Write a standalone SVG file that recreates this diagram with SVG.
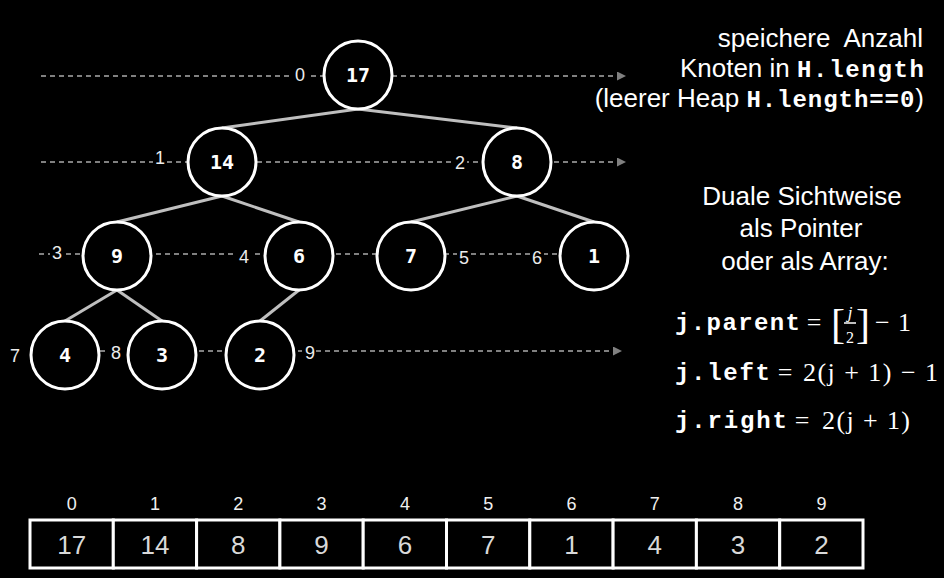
<svg xmlns="http://www.w3.org/2000/svg" width="944" height="578" viewBox="0 0 944 578">
<defs>
<marker id="arr" viewBox="0 0 10 10" refX="10" refY="5" markerWidth="9" markerHeight="9" markerUnits="userSpaceOnUse" orient="auto">
<path d="M0,0 L10,5 L0,10 Z" fill="#808080"/>
</marker>
<style>
.node ellipse{fill:#000;stroke:#fff;stroke-width:3}
.node text{font-family:"DejaVu Sans Mono","Liberation Mono",monospace;font-weight:bold;font-size:20px;fill:#fff;text-anchor:middle}
.edge{stroke:#bfbfbf;stroke-width:3;fill:none}
.dash{stroke:#808080;stroke-width:2;stroke-dasharray:5 4;fill:none}
.idx{font-family:"Liberation Sans Narrow","Liberation Sans",sans-serif;font-size:18px;fill:#ececec;text-anchor:middle}
.bg{fill:#000}
.txt{font-family:"Liberation Sans",Arial,sans-serif;font-size:26px;fill:#fff}
.mono{font-family:"Liberation Mono","Courier New",monospace;font-weight:bold;fill:#fff}
.math{font-family:"Liberation Serif","Times New Roman",serif;fill:#fff}
.cell{fill:#000;stroke:#fff;stroke-width:3}
.aidx{font-family:"Liberation Sans Narrow","Liberation Sans",sans-serif;font-size:18px;fill:#f0f0f0;text-anchor:middle}
.aval{font-family:"Liberation Sans Narrow","Liberation Sans",sans-serif;font-size:26px;fill:#d9d9d9;text-anchor:middle}
</style>
</defs>
<rect x="0" y="0" width="944" height="578" fill="#000"/>

<g id="connectors">
<line class="dash" x1="41" y1="76" x2="626" y2="76" marker-end="url(#arr)"/>
<line class="dash" x1="41" y1="162" x2="626" y2="162" marker-end="url(#arr)"/>
<line class="dash" x1="39" y1="254" x2="562" y2="254"/>
<line class="dash" x1="100" y1="351" x2="622" y2="351" marker-end="url(#arr)"/>
<line class="edge" x1="358" y1="109" x2="222" y2="128"/>
<line class="edge" x1="358" y1="109" x2="517" y2="128"/>
<line class="edge" x1="222" y1="196" x2="117" y2="222"/>
<line class="edge" x1="222" y1="196" x2="299" y2="222"/>
<line class="edge" x1="517" y1="196" x2="411" y2="222"/>
<line class="edge" x1="517" y1="196" x2="594" y2="222"/>
<line class="edge" x1="117" y1="290" x2="65" y2="321"/>
<line class="edge" x1="117" y1="290" x2="162" y2="321"/>
<line class="edge" x1="299" y1="290" x2="260" y2="321"/>
</g>

<g id="index-labels">
<rect class="bg" x="293" y="64" width="14" height="20"/><text class="idx" x="300" y="81">0</text>
<rect class="bg" x="153" y="148" width="14" height="20"/><text class="idx" x="160" y="164">1</text>
<rect class="bg" x="453" y="152" width="14" height="20"/><text class="idx" x="460" y="169">2</text>
<rect class="bg" x="50" y="242" width="14" height="20"/><text class="idx" x="57" y="259">3</text>
<rect class="bg" x="237" y="246" width="14" height="20"/><text class="idx" x="244" y="263">4</text>
<rect class="bg" x="457" y="246" width="14" height="20"/><text class="idx" x="464" y="264">5</text>
<rect class="bg" x="530" y="246" width="14" height="20"/><text class="idx" x="537" y="264">6</text>
<text class="idx" x="15" y="362">7</text>
<rect class="bg" x="109" y="342" width="14" height="20"/><text class="idx" x="116" y="359">8</text>
<rect class="bg" x="302" y="342" width="14" height="20"/><text class="idx" x="310" y="359">9</text>
</g>

<g id="n0" class="node"><ellipse cx="358" cy="75" rx="34" ry="34"/><text x="358" y="82">17</text></g>
<g id="n1" class="node"><ellipse cx="222" cy="162" rx="34" ry="34"/><text x="222" y="169">14</text></g>
<g id="n2" class="node"><ellipse cx="517" cy="162" rx="34" ry="34"/><text x="517" y="169">8</text></g>
<g id="n3" class="node"><ellipse cx="117" cy="256" rx="34" ry="34"/><text x="117" y="263">9</text></g>
<g id="n4" class="node"><ellipse cx="299" cy="256" rx="34" ry="34"/><text x="299" y="263">6</text></g>
<g id="n5" class="node"><ellipse cx="411" cy="256" rx="34" ry="34"/><text x="411" y="263">7</text></g>
<g id="n6" class="node"><ellipse cx="594" cy="256" rx="34" ry="34"/><text x="594" y="263">1</text></g>
<g id="n7" class="node"><ellipse cx="65" cy="355" rx="34" ry="34"/><text x="65" y="362">4</text></g>
<g id="n8" class="node"><ellipse cx="162" cy="355" rx="34" ry="34"/><text x="162" y="362">3</text></g>
<g id="n9" class="node"><ellipse cx="260" cy="355" rx="34" ry="34"/><text x="260" y="362">2</text></g>

<g id="note-length">
<text class="txt" x="923" y="47" text-anchor="end" xml:space="preserve">speichere  Anzahl</text>
<text class="txt" x="924" y="77" text-anchor="end">Knoten in <tspan class="mono" font-size="24" textLength="127">H.length</tspan></text>
<text class="txt" x="924" y="107" text-anchor="end">(leerer Heap <tspan class="mono" font-size="24" textLength="168">H.length==0</tspan>)</text>
</g>

<g id="note-dual">
<text class="txt" x="802" y="205" text-anchor="middle">Duale Sichtweise</text>
<text class="txt" x="801" y="237" text-anchor="middle">als Pointer</text>
<text class="txt" x="805" y="270" text-anchor="middle">oder als Array:</text>
</g>

<g id="formulas">
<text class="mono" x="675" y="330" font-size="24" textLength="125">j.parent</text>
<text class="math" x="814" y="331" text-anchor="middle" style="font-size:26px">=</text>
<text class="math" x="831" y="338" style="font-size:42px">[</text>
<text class="math" x="850" y="318" style="font-size:17px;font-style:italic" text-anchor="middle">j</text>
<line x1="844" y1="323" x2="856" y2="323" stroke="#fff" stroke-width="1.5"/>
<text class="math" x="850" y="343" style="font-size:16px" text-anchor="middle">2</text>
<text class="math" x="856" y="338" style="font-size:42px">]</text>
<text class="math" x="875" y="331" style="font-size:26px" textLength="36">− 1</text>

<text class="mono" x="675" y="380" font-size="24" textLength="95">j.left</text>
<text class="math" x="785" y="381" text-anchor="middle" style="font-size:26px">=</text>
<text class="math" x="803" y="381" style="font-size:26px" textLength="135">2(j + 1) − 1</text>

<text class="mono" x="675" y="428" font-size="24" textLength="112">j.right</text>
<text class="math" x="802" y="429" text-anchor="middle" style="font-size:26px">=</text>
<text class="math" x="822" y="429" style="font-size:26px" textLength="88">2(j + 1)</text>
</g>

<g id="array">
<rect class="cell" x="30" y="520" width="83.3" height="48"/>
<rect class="cell" x="113.3" y="520" width="83.3" height="48"/>
<rect class="cell" x="196.6" y="520" width="83.3" height="48"/>
<rect class="cell" x="279.9" y="520" width="83.3" height="48"/>
<rect class="cell" x="363.2" y="520" width="83.3" height="48"/>
<rect class="cell" x="446.5" y="520" width="83.3" height="48"/>
<rect class="cell" x="529.8" y="520" width="83.3" height="48"/>
<rect class="cell" x="613.1" y="520" width="83.3" height="48"/>
<rect class="cell" x="696.4" y="520" width="83.3" height="48"/>
<rect class="cell" x="779.7" y="520" width="83.3" height="48"/>
<text class="aidx" x="71.7" y="510">0</text>
<text class="aidx" x="155" y="510">1</text>
<text class="aidx" x="238.3" y="510">2</text>
<text class="aidx" x="321.6" y="510">3</text>
<text class="aidx" x="404.9" y="510">4</text>
<text class="aidx" x="488.2" y="510">5</text>
<text class="aidx" x="571.5" y="510">6</text>
<text class="aidx" x="654.8" y="510">7</text>
<text class="aidx" x="738.1" y="510">8</text>
<text class="aidx" x="821.4" y="510">9</text>
<text class="aval" x="71.7" y="554">17</text>
<text class="aval" x="155" y="554">14</text>
<text class="aval" x="238.3" y="554">8</text>
<text class="aval" x="321.6" y="554">9</text>
<text class="aval" x="404.9" y="554">6</text>
<text class="aval" x="488.2" y="554">7</text>
<text class="aval" x="571.5" y="554">1</text>
<text class="aval" x="654.8" y="554">4</text>
<text class="aval" x="738.1" y="554">3</text>
<text class="aval" x="821.4" y="554">2</text>
</g>
</svg>
